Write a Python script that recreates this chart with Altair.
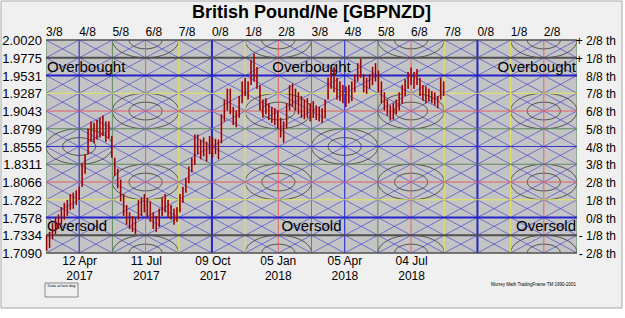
import altair as alt
import pandas as pd
import numpy as np

FONT = "Liberation Sans"

# ---------------- data ----------------
title_text = "British Pound/Ne [GBPNZD]"

levels = [1.7090, 1.7334, 1.7578, 1.7822, 1.8066, 1.8311, 1.8555,
          1.8799, 1.9043, 1.9287, 1.9531, 1.9775, 2.0020]
level_values_text = ["1.7090", "1.7334", "1.7578", "1.7822", "1.8066", "1.8311", "1.8555",
                     "1.8799", "1.9043", "1.9287", "1.9531", "1.9775", "2.0020"]
level_labels = ["- 2/8 th", "- 1/8 th", "0/8 th", "1/8 th", "2/8 th", "3/8 th", "4/8 th",
                "5/8 th", "6/8 th", "7/8 th", "8/8 th", "+ 1/8 th", "+ 2/8 th"]
level_colors = ["#505050", "#505050", "#2424c8", "#e4e45c", "#e06262", "#5e8a5e", "#3434d0",
                "#5e8a5e", "#e06262", "#e4e45c", "#2424c8", "#505050", "#505050"]
level_widths = [1.5, 2, 2, 1, 1, 1, 1.2, 1, 1, 1, 2, 2, 1.5]

time_labels = ["3/8", "4/8", "5/8", "6/8", "7/8", "0/8", "1/8", "2/8", "3/8",
               "4/8", "5/8", "6/8", "7/8", "0/8", "1/8", "2/8", "3/8"]
time_colors = {"0/8": "#2424c8", "4/8": "#3434d0", "2/8": "#e06262", "6/8": "#e06262",
               "1/8": "#e4e45c", "7/8": "#e4e45c", "3/8": "#5e8a5e", "5/8": "#5e8a5e"}
time_widths = {"0/8": 2, "4/8": 1.2}
first_time_line = "2017-04-12"   # the 4/8 time line
cell_days = 44.8                 # one time cell

date_ticks = ["2017-04-12", "2017-07-11", "2017-10-09", "2018-01-05", "2018-04-05", "2018-07-04"]

zone_texts = ["Overbought", "Overbought", "Overbought", "Oversold", "Oversold", "Oversold"]
zone_prices = [1.9653, 1.9653, 1.9653, 1.7456, 1.7456, 1.7456]

bar_start = "2017-02-27"
bar_step_days = 4
lows = [1.712, 1.716, 1.728, 1.735, 1.742, 1.748, 1.755, 1.760, 1.768, 1.770,
        1.775, 1.782, 1.800, 1.818, 1.845, 1.862, 1.860, 1.865, 1.868, 1.870,
        1.862, 1.866, 1.840, 1.815, 1.798, 1.780, 1.760, 1.748, 1.742, 1.738,
        1.735, 1.755, 1.760, 1.765, 1.758, 1.752, 1.742, 1.738, 1.745, 1.760,
        1.765, 1.758, 1.755, 1.748, 1.752, 1.765, 1.778, 1.792, 1.805, 1.820,
        1.830, 1.845, 1.838, 1.842, 1.835, 1.845, 1.840, 1.845, 1.838, 1.860,
        1.890, 1.905, 1.900, 1.885, 1.882, 1.895, 1.915, 1.925, 1.920, 1.940,
        1.945, 1.935, 1.905, 1.895, 1.900, 1.892, 1.888, 1.885, 1.880, 1.868,
        1.861, 1.880, 1.905, 1.910, 1.905, 1.900, 1.895, 1.893, 1.895, 1.890,
        1.895, 1.892, 1.890, 1.888, 1.895, 1.920, 1.935, 1.930, 1.920, 1.918,
        1.915, 1.910, 1.915, 1.918, 1.930, 1.945, 1.950, 1.930, 1.928, 1.935,
        1.940, 1.945, 1.930, 1.915, 1.905, 1.898, 1.891, 1.893, 1.900, 1.905,
        1.915, 1.925, 1.935, 1.940, 1.935, 1.940, 1.925, 1.918, 1.915, 1.918,
        1.915, 1.912, 1.908, 1.920, 1.925]
highs = [1.733, 1.738, 1.750, 1.758, 1.762, 1.772, 1.778, 1.782, 1.790, 1.792,
         1.795, 1.800, 1.832, 1.845, 1.880, 1.890, 1.888, 1.892, 1.895, 1.898,
         1.890, 1.890, 1.870, 1.840, 1.825, 1.810, 1.790, 1.775, 1.765, 1.760,
         1.758, 1.782, 1.785, 1.790, 1.785, 1.780, 1.765, 1.760, 1.770, 1.785,
         1.790, 1.782, 1.775, 1.770, 1.772, 1.790, 1.800, 1.812, 1.828, 1.840,
         1.872, 1.872, 1.865, 1.868, 1.862, 1.870, 1.868, 1.866, 1.865, 1.900,
         1.920, 1.935, 1.935, 1.910, 1.905, 1.925, 1.945, 1.950, 1.945, 1.975,
         1.983, 1.965, 1.940, 1.920, 1.922, 1.915, 1.910, 1.908, 1.905, 1.895,
         1.890, 1.915, 1.940, 1.942, 1.935, 1.930, 1.925, 1.920, 1.922, 1.915,
         1.918, 1.912, 1.910, 1.908, 1.920, 1.950, 1.962, 1.965, 1.950, 1.945,
         1.940, 1.938, 1.940, 1.945, 1.955, 1.970, 1.976, 1.955, 1.950, 1.955,
         1.965, 1.970, 1.960, 1.945, 1.930, 1.920, 1.912, 1.915, 1.920, 1.930,
         1.940, 1.948, 1.958, 1.964, 1.958, 1.962, 1.950, 1.940, 1.938, 1.935,
         1.932, 1.930, 1.925, 1.950, 1.945]

# ---------------- helpers ----------------
DAY_MS = 86400000.0


def ms(s):
    return pd.Timestamp(s).value / 1e6


t1 = ms(first_time_line)


def t_of(u):  # u in time cells, u=0 is the left edge (first 3/8 line)
    return t1 + (u - 1) * cell_days * DAY_MS


lvl_step = (levels[-1] - levels[0]) / 12.0


def p_of(v):  # v in price steps, v=0 at -2/8
    return levels[0] + v * lvl_step


x_dom = [t_of(0), t_of(16)]
y_dom = [levels[0], levels[-1]]
XS = alt.Scale(type="utc", domain=x_dom)
YS = alt.Scale(domain=y_dom, zero=False, nice=False)
X = lambda f: alt.X(f, type="temporal", scale=XS)
Y = lambda f: alt.Y(f, type="quantitative", scale=YS)

one = pd.DataFrame({"a": [0]})

# frame and plot background
frame = alt.Chart(one).mark_rect(fill="#f0f0f0", stroke="#a8a8a8", strokeWidth=1).encode(
    x=alt.value(-45), x2=alt.value(576), y=alt.value(-39), y2=alt.value(268))
plotbg = alt.Chart(one).mark_rect(fill="#c4c4c4").encode(
    x=alt.value(0), x2=alt.value(531), y=alt.value(0), y2=alt.value(213))

# diagonal lattice (one level per time cell, through every grid crossing)
rows = []
for c in range(-16, 13):
    rows.append({"t": t_of(0), "t2": t_of(16), "p": p_of(c), "p2": p_of(c + 16)})
for c in range(0, 29):
    rows.append({"t": t_of(0), "t2": t_of(16), "p": p_of(c), "p2": p_of(c - 16)})
diag_df = pd.DataFrame(rows)
diags = alt.Chart(diag_df).mark_rule(clip=True, color="#3c3cd4", strokeWidth=0.8, opacity=0.8).encode(
    x=X("t"), x2="t2", y=Y("p"), y2="p2")

# ellipses
ell_path = ("M -1 0 C -1 -0.295 -0.5523 -0.535 0 -0.535 C 0.5523 -0.535 1 -0.295 1 0 "
            "C 1 0.295 0.5523 0.535 0 0.535 C -0.5523 0.535 -1 0.295 -1 0 Z")
outer_size = (2 * 33.2) ** 2
inner_size = (33.2) ** 2
erows = []
for k in [3, 7, 11, 15]:
    for li in [12, 8, 4, 0]:
        erows.append({"t": t_of(k), "p": levels[li], "s": outer_size})
        erows.append({"t": t_of(k), "p": levels[li], "s": inner_size})
for k in [1, 9]:
    erows.append({"t": t_of(k), "p": levels[6], "s": outer_size})
    erows.append({"t": t_of(k), "p": levels[6], "s": inner_size})
ell_df = pd.DataFrame(erows)
ells = alt.Chart(ell_df).mark_point(shape=ell_path, filled=False, clip=True, color="#383838",
                                     strokeWidth=0.9, opacity=0.9).encode(
    x=X("t"), y=Y("p"), size=alt.Size("s:Q", scale=None))

# vertical time lines
vt_df = pd.DataFrame({"t": [t_of(k) for k in range(len(time_labels))],
                      "lab": time_labels,
                      "col": [time_colors[l] for l in time_labels],
                      "w": [time_widths.get(l, 1) for l in time_labels]})
vlines = alt.Chart(vt_df).mark_rule(clip=True).encode(
    x=X("t"), color=alt.Color("col:N", scale=None), strokeWidth=alt.StrokeWidth("w:Q", scale=None))
toplabels = alt.Chart(vt_df.iloc[:-1]).mark_text(align="left", baseline="middle", fontSize=12,
                                                 font=FONT, color="black").encode(
    x=X("t"), y=alt.value(-8.5), text="lab:N")

# horizontal price levels
lv_df = pd.DataFrame({"p": levels, "lab": level_labels, "val": level_values_text,
                      "col": level_colors, "w": level_widths})
hlines = alt.Chart(lv_df).mark_rule().encode(
    y=Y("p"), color=alt.Color("col:N", scale=None), strokeWidth=alt.StrokeWidth("w:Q", scale=None))
rightlabels = alt.Chart(lv_df).mark_text(align="right", baseline="middle", fontSize=12, font=FONT,
                                         color="black", dy=1).encode(
    x=alt.value(570), y=Y("p"), text="lab:N")
leftlabels = alt.Chart(lv_df).mark_text(align="right", baseline="middle", fontSize=13, font=FONT,
                                        color="black", dy=1).encode(
    x=alt.value(-4), y=Y("p"), text="val:N")

# zone texts
zone_df = pd.DataFrame({"txt": zone_texts, "p": zone_prices,
                        "t": [x_dom[0], (x_dom[0] + x_dom[1]) / 2, x_dom[1]] * 2,
                        "al": ["left", "center", "right"] * 2})
zone_layers = []
for al, dxv in [("left", 1), ("center", 0), ("right", -1)]:
    zone_layers.append(alt.Chart(zone_df[zone_df.al == al]).mark_text(
        align=al, baseline="middle", fontSize=15, font=FONT, color="black", dx=dxv).encode(
        x=X("t"), y=Y("p"), text="txt:N"))

# price bars (this layer carries the date axis)
bar_t = [ms(bar_start) + i * bar_step_days * DAY_MS for i in range(len(lows))]
bars_df = pd.DataFrame({"t": bar_t, "low": lows, "high": highs})
bars_red = alt.Chart(bars_df).mark_rule(color="#e01010", strokeWidth=1.6).encode(
    x=alt.X("t", type="temporal", scale=XS,
            axis=alt.Axis(values=[ms(d) for d in date_ticks],
                          labelExpr="[utcFormat(datum.value, '%d %b'), utcFormat(datum.value, '%Y')]",
                          labelFontSize=12, labelLineHeight=15, labelFont=FONT, labelColor="black",
                          ticks=False, domain=False, grid=False, labelPadding=2, title=None,
                          labelOverlap=False, zindex=2)),
    y=alt.Y("low", type="quantitative", scale=YS,
            axis=alt.Axis(labels=False, ticks=False, domain=False, grid=False, title=None)),
    y2="high")
bars_dark = alt.Chart(bars_df).mark_rule(color="#3a0000", strokeWidth=0.6).encode(
    x=X("t"), y=Y("low"), y2="high")

# title and footnotes
title = alt.Chart(pd.DataFrame({"txt": [title_text]})).mark_text(
    fontSize=18, fontWeight="bold", font=FONT, color="black", align="center", baseline="middle").encode(
    x=alt.value(265.5), y=alt.value(-27), text="txt:N")
notebox = alt.Chart(one).mark_rect(fill="#f0f0f0", stroke="#606060", strokeWidth=0.7).encode(
    x=alt.value(-1), x2=alt.value(32), y=alt.value(243), y2=alt.value(257))
notetxt = alt.Chart(pd.DataFrame({"txt": ["Data at last day"]})).mark_text(
    fontSize=4, font=FONT, color="black", align="center", baseline="middle").encode(
    x=alt.value(15.5), y=alt.value(246), text="txt:N")
footer = alt.Chart(pd.DataFrame({"txt": ["Murrey Math TradingFrame TM 1990-2001"]})).mark_text(
    fontSize=4.5, font=FONT, color="black", align="right", baseline="middle").encode(
    x=alt.value(530), y=alt.value(245), text="txt:N")

chart = alt.layer(
    frame, plotbg, diags, ells, vlines, hlines, *zone_layers, bars_red, bars_dark,
    toplabels, rightlabels, leftlabels, title, notebox, notetxt, footer
).properties(
    width=531, height=213,
    autosize=alt.AutoSizeParams(type="none"),
    padding={"left": 46, "top": 40, "right": 48, "bottom": 65},
    background="white",
).configure_view(stroke=None).configure_axis(ticks=False, domain=False, grid=False)

chart.save("out.html", embed_options={"renderer": "svg", "actions": False})
